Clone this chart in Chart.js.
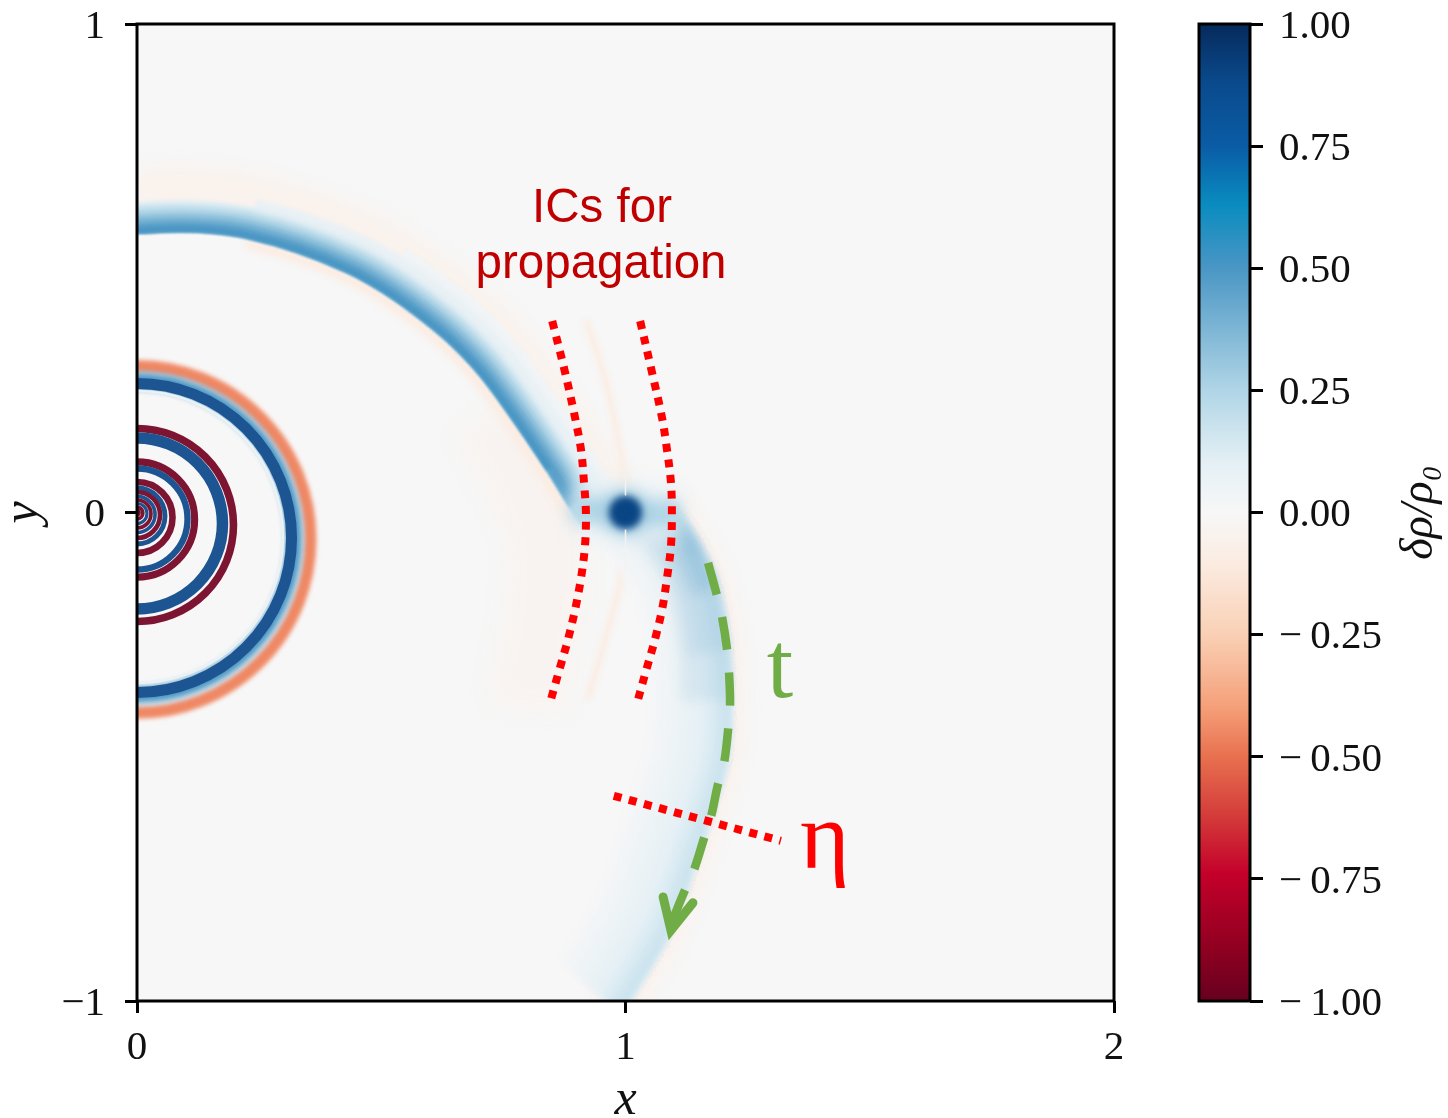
<!DOCTYPE html>
<html>
<head>
<meta charset="utf-8">
<style>
html, body { margin: 0; padding: 0; background: #fff; width: 1448px; height: 1118px; overflow: hidden; }
canvas { position: absolute; top: 0; }
#field { left: 0; }
</style>
<script src="https://cdn.jsdelivr.net/npm/chart.js@4"></script>
</head>
<body>
<div style="position:absolute;left:0;top:0;width:1180px;height:1118px"><canvas id="field"></canvas></div>
<div style="position:absolute;left:1180px;top:0;width:268px;height:1118px"><canvas id="bar" style="left:0"></canvas></div>
<script>
// axis ticks
const xTicks = [0, 1, 2];
const yTicks = [-1, 0, 1];
const barTicks = [-1, -0.75, -0.5, -0.25, 0, 0.25, 0.5, 0.75, 1];

// colormap
const cmapLevels = [-1, -0.9, -0.74, -0.62, -0.5, -0.4, -0.25, -0.1, 0, 0.1, 0.25, 0.5, 0.63, 0.75, 0.88, 1];
const cmapColors = ['#67001f', '#8d0020', '#c4002a', '#d43c3a', '#e8704f', '#f59f78', '#f9d0b5', '#fbece2', '#f7f7f7',
  '#e5f0f5', '#b0d5e6', '#4a96c4', '#0a8cc0', '#0a5ca5', '#0a4a8c', '#062a5c'];
const ringBlue = '#1c5591';
const ringRed = '#7d1432';

// rings near the origin, outermost first: centre y, radius, thickness, level
const ringY = [-0.055, -0.052, -0.052, -0.05, -0.0256, -0.0225, -0.0143, -0.0133, -0.0102, -0.0072, -0.0051, -0.004, -0.003, -0.002, -0.001, 0];
const ringR = [0.355, 0.3216, 0.3163, 0.299, 0.1975, 0.175, 0.118, 0.1034, 0.0727, 0.0573, 0.0471, 0.037, 0.0286, 0.0205, 0.012, 0.004];
const ringT = [0.0246, 0.0327, 0.0225, 0.005, 0.0155, 0.0235, 0.0145, 0.013, 0.0135, 0.01, 0.0095, 0.0075, 0.0075, 0.0065, 0.0075, 0.008];
const ringV = [-0.45, 0.5, 1, 0.07, -1, 1, -1, 1, -1, 1, -1, 1, -1, 1, -1, -1];
const ringBlur = [2, 3, 0.6, 0.6, 0.5, 0.5, 0.5, 0.5, 0.5, 0.5, 0.5, 0.5, 0.5, 0.5, 0.5, 0.5];

// sharp edge of the upper arm
const armUpper = [[0, 0.572], [0.088, 0.575], [0.156, 0.572], [0.225, 0.562], [0.328, 0.533], [0.43, 0.492], [0.497, 0.455],
  [0.565, 0.408], [0.635, 0.351], [0.702, 0.281], [0.77, 0.189], [0.839, 0.087], [0.886, 0.011], [0.915, -0.032]];
// depth from the edge, level, first and last edge point used
const upperDepth = [0.1, 0.082, 0.064, 0.055, 0.046, 0.037, 0.028, 0.019, 0.011];
const upperLevel = [0.04, 0.08, 0.12, 0.19, 0.26, 0.33, 0.4, 0.46, 0.5];
const upperFrom = [6, 3, 0, 0, 0, 0, 0, 0, 0];
const upperTo = [14, 14, 14, 14, 14, 14, 13, 13, 12];

// sharp edge of the lower arm
const armLower = [[1.08, 0.03], [1.112, -0.009], [1.152, -0.071], [1.187, -0.153], [1.21, -0.281], [1.214, -0.384], [1.208, -0.5],
  [1.177, -0.609], [1.138, -0.726], [1.091, -0.855], [1.009, -0.994], [0.989, -1.018]];
const lowerDepth = [0.164, 0.14, 0.115, 0.09, 0.07, 0.05, 0.03, 0.015];
const lowerLevel = [0.025, 0.04, 0.06, 0.08, 0.1, 0.125, 0.15, 0.175];
// darker stretch of the arm just below the planet: depth and edge points used
const neckDepth = [0.1, 0.08, 0.06, 0.04, 0.025];
const neckTo = [6, 5, 4, 4, 3];

// faint features around the planet
const tintLeft = [[0.72, 0.2], [0.8, 0.05], [0.84, -0.1], [0.8, -0.4]];
const wakeUp = [[0.919, 0.394], [0.96, 0.266], [0.989, 0.128], [1.001, 0.052]];
const wakeDown = [[1.001, -0.042], [0.989, -0.144], [0.962, -0.247], [0.923, -0.384]];
const seamUp = [[1, 0.09], [1, 0.035]];
const seamDown = [[1, -0.035], [1, -0.12]];
const neck = [[0.89, 0.01], [1, 0], [1.11, -0.005]];
const planet = [[1, 0]];
const planetR = [0.045, 0.034];
const planetV = [0.3, 0.9];

// annotations
const icLeft = [[0.85, 0.392], [0.876, 0.288], [0.897, 0.193], [0.909, 0.128], [0.915, 0.062], [0.919, -0.001], [0.917, -0.069],
  [0.909, -0.134], [0.897, -0.198], [0.882, -0.261], [0.864, -0.324], [0.845, -0.391]];
const icRight = [[1.03, 0.392], [1.054, 0.288], [1.075, 0.193], [1.085, 0.128], [1.093, 0.062], [1.095, -0.001], [1.093, -0.069],
  [1.085, -0.134], [1.075, -0.198], [1.06, -0.261], [1.042, -0.324], [1.022, -0.396]];
const etaLine = [[0.976, -0.58], [1.318, -0.672]];
const tLine = [[1.169, -0.103], [1.187, -0.169], [1.198, -0.216], [1.208, -0.281], [1.212, -0.329], [1.214, -0.394], [1.21, -0.445],
  [1.202, -0.511], [1.189, -0.558], [1.175, -0.623], [1.161, -0.666], [1.14, -0.732], [1.12, -0.777], [1.095, -0.838]];
const tArrow = [[1.077, -0.787], [1.093, -0.855], [1.138, -0.799]];
const notes = [
  { text: 'ICs for', x: 0.952, y: 0.594, font: '47.5px "Liberation Sans"', color: '#c00000' },
  { text: 'propagation', x: 0.95, y: 0.48, font: '47.5px "Liberation Sans"', color: '#c00000' },
  { text: 't', x: 1.316, y: -0.378, font: '95px "Liberation Serif"', color: '#70ad47' },
  { text: 'η', x: 1.408, y: -0.728, font: '95px "Liberation Serif"', color: '#ff0000' }
];

const hex = c => [1, 3, 5].map(i => parseInt(c.slice(i, i + 2), 16));
function levelColor(v) {
  let i = 0;
  while (i < cmapLevels.length - 2 && v > cmapLevels[i + 1]) i++;
  const t = (v - cmapLevels[i]) / (cmapLevels[i + 1] - cmapLevels[i]);
  const a = hex(cmapColors[i]), b = hex(cmapColors[i + 1]);
  return 'rgb(' + a.map((n, k) => Math.round(n + (b[k] - n) * t)).join(',') + ')';
}
const ringColor = v => v === 1 ? ringBlue : v === -1 ? ringRed : levelColor(v);
const toXY = pts => pts.map(p => ({ x: p[0], y: p[1] }));
// shift an edge sideways, + is to the left of the walking direction
function shifted(pts, d) {
  return pts.map((p, i) => {
    const a = pts[Math.max(i - 1, 0)], b = pts[Math.min(i + 1, pts.length - 1)];
    const dx = b[0] - a[0], dy = b[1] - a[1], n = Math.hypot(dx, dy);
    return [p[0] - dy / n * d, p[1] + dx / n * d];
  });
}
const span = (chart, d) => chart.scales.x.getPixelForValue(d) - chart.scales.x.getPixelForValue(0);

function line(pts, color, width, extra) {
  return Object.assign({
    type: 'scatter', showLine: true, data: toXY(pts), borderColor: color, backgroundColor: color,
    borderWidth: width, pointRadius: 0, tension: 0.35, clip: 0, borderCapStyle: 'butt', borderJoinStyle: 'round'
  }, extra);
}
// line whose thickness is given in data units
const band = (pts, depth, level, blur) => line(pts, levelColor(level), c => span(c.chart, depth), { blur: blur });

const datasets = [];
// pale tint around the structures
datasets.push(band(tintLeft, 0.16, -0.035, 12));
datasets.push(band(shifted(armUpper, 0.085), 0.1, -0.05, 8));
datasets.push(band(shifted(armLower, -0.02), 0.1, -0.05, 8));
datasets.push(band(shifted(armUpper.slice(3), -0.012), 0.02, -0.1, 3));
datasets.push(band(wakeUp, 0.016, -0.08, 2.5));
datasets.push(band(wakeDown, 0.016, -0.08, 2.5));

// lower arm
lowerDepth.forEach((d, i) => datasets.push(band(shifted(armLower, -d / 2), d, lowerLevel[i], 3)));
neckDepth.forEach((d, i) => datasets.push(line(shifted(armLower, -d / 2).slice(0, neckTo[i]), 'rgba(70,150,200,0.1)',
  c => span(c.chart, d), { blur: 6 })));
// upper arm
upperDepth.forEach((d, i) => datasets.push(band(shifted(armUpper, d / 2).slice(upperFrom[i], upperTo[i]), d, upperLevel[i], 1.5)));

// link through the planet
datasets.push(band(neck, 0.11, 0.1, 10));
datasets.push(band(neck, 0.05, 0.25, 7));
planetR.forEach((r, i) => datasets.push({
  type: 'scatter', data: toXY(planet), clip: 0, blur: i ? 3.5 : 8,
  pointBackgroundColor: levelColor(planetV[i]), pointBorderWidth: 0,
  pointRadius: c => span(c.chart, r)
}));
datasets.push(line(seamUp, '#f2f2f2', 1.5, { blur: 0.5 }));
datasets.push(line(seamDown, '#f2f2f2', 1.5, { blur: 0.5 }));

// rings
ringR.forEach((r, i) => datasets.push({
  type: 'scatter', data: [{ x: 0, y: ringY[i] }], clip: 0, blur: ringBlur[i],
  pointBackgroundColor: 'rgba(0,0,0,0)', pointBorderColor: ringColor(ringV[i]),
  pointBorderWidth: c => span(c.chart, ringT[i]), pointRadius: c => span(c.chart, r)
}));

// hand drawn marks
datasets.push(line(icLeft, '#ff0000', 8, { borderDash: [8, 7.7] }));
datasets.push(line(icRight, '#ff0000', 8, { borderDash: [8, 7.7] }));
datasets.push(line(tLine, '#70ad47', 8.5, { borderDash: [33, 23] }));
datasets.push(line(tArrow, '#70ad47', 9, { tension: 0, borderCapStyle: 'round', borderJoinStyle: 'miter' }));
datasets.push(line(etaLine, '#ff0000', 8, { borderDash: [8, 7.6], tension: 0 }));

// the first dataset is painted last by Chart.js
datasets.reverse();

const blurPlugin = {
  id: 'blur',
  beforeDatasetDraw(chart, args) {
    const b = chart.data.datasets[args.index].blur;
    chart.ctx.save();
    if (b) chart.ctx.filter = 'blur(' + b + 'px)';
  },
  afterDatasetDraw(chart) { chart.ctx.restore(); }
};
const framePlugin = {
  id: 'frame',
  beforeDatasetsDraw(chart) {
    const a = chart.chartArea, c = chart.ctx;
    c.fillStyle = '#f7f7f7';
    c.fillRect(a.left, a.top, a.width, a.height);
  },
  afterDraw(chart) {
    const a = chart.chartArea, c = chart.ctx, xs = chart.scales.x, ys = chart.scales.y;
    c.save();
    c.textAlign = 'center';
    notes.forEach(n => {
      c.font = n.font;
      c.fillStyle = n.color;
      c.fillText(n.text, xs.getPixelForValue(n.x), ys.getPixelForValue(n.y));
    });
    c.strokeStyle = '#000';
    c.lineWidth = 3;
    c.strokeRect(a.left, a.top, a.width, a.height);
    c.restore();
  }
};
const tickFont = { family: '"Liberation Serif"', size: 41 };
// small line height plus an empty first line drops y tick labels by 3px
const yTickFont = { family: '"Liberation Serif"', size: 41, lineHeight: 0.15 };
const labelFont = { family: '"Liberation Serif"', size: 50, style: 'italic', lineHeight: 0.7 };
const fmt = v => (v < 0 ? '−' : '') + Math.abs(v);
const noPad = s => { s.paddingTop = 0; s.paddingBottom = 0; s.paddingLeft = 0; s.paddingRight = 0; };

new Chart(document.getElementById('field'), {
  type: 'scatter',
  data: { datasets: datasets },
  plugins: [framePlugin, blurPlugin],
  options: {
    responsive: true, maintainAspectRatio: false, animation: false, events: [],
    layout: { padding: { top: 24, right: 66, left: 0, bottom: 0 } },
    plugins: { legend: { display: false }, tooltip: { enabled: false } },
    scales: {
      x: {
        type: 'linear', min: 0, max: 2,
        afterBuildTicks: s => { s.ticks = xTicks.map(v => ({ value: v })); },
        afterFit: s => { s.height = 117; noPad(s); },
        grid: { drawOnChartArea: false, tickLength: 12, tickWidth: 3, tickColor: '#000' },
        border: { display: false },
        ticks: { font: tickFont, color: '#111', padding: 11, maxRotation: 0, callback: fmt },
        title: { display: true, text: 'x', font: labelFont, color: '#111', padding: { top: 0, bottom: 0 } }
      },
      y: {
        type: 'linear', min: -1, max: 1,
        afterBuildTicks: s => { s.ticks = yTicks.map(v => ({ value: v })); },
        afterFit: s => { s.width = 137; noPad(s); },
        grid: { drawOnChartArea: false, tickLength: 12, tickWidth: 3, tickColor: '#000' },
        border: { display: false },
        ticks: { font: yTickFont, color: '#111', padding: 20, callback: v => ['', fmt(v)] },
        title: { display: true, text: 'y', font: labelFont, color: '#111', padding: { top: 6.5, bottom: 0 } }
      }
    }
  }
});

// colorbar
const barLabel = 'δρ/ρ₀';
const barRange = [[-1, 1]];
const barFrame = {
  id: 'barFrame',
  afterDraw(chart) {
    const a = chart.chartArea, c = chart.ctx;
    c.save();
    c.strokeStyle = '#000';
    c.lineWidth = 3;
    c.strokeRect(a.left, a.top, a.width, a.height);
    c.translate(240, chart.scales.y.getPixelForValue(0));
    c.rotate(-Math.PI / 2);
    c.font = 'italic 46px "Liberation Serif"';
    c.fillStyle = '#111';
    c.textAlign = 'center';
    c.textBaseline = 'middle';
    c.fillText(barLabel, 0, 0);
    c.restore();
  }
};
new Chart(document.getElementById('bar'), {
  type: 'bar',
  data: {
    labels: [barLabel],
    datasets: [{
      data: barRange, barPercentage: 1, categoryPercentage: 1,
      backgroundColor(c) {
        const a = c.chart.chartArea;
        if (!a) return '#f7f7f7';
        const g = c.chart.ctx.createLinearGradient(0, a.bottom, 0, a.top);
        cmapLevels.forEach((v, i) => g.addColorStop((v + 1) / 2, cmapColors[i]));
        return g;
      }
    }]
  },
  plugins: [barFrame],
  options: {
    responsive: true, maintainAspectRatio: false, animation: false, events: [],
    layout: { padding: { top: 24, bottom: 117, left: 19, right: 0 } },
    plugins: { legend: { display: false }, tooltip: { enabled: false } },
    scales: {
      x: { display: false },
      y: {
        type: 'linear', position: 'right', min: -1, max: 1,
        afterBuildTicks: s => { s.ticks = barTicks.map(v => ({ value: v })); },
        afterFit: s => { s.width = 198; noPad(s); },
        grid: { drawOnChartArea: false, tickLength: 13, tickWidth: 3, tickColor: '#000' },
        border: { display: false },
        ticks: { font: yTickFont, color: '#111', padding: 16, callback: v => ['', (v < 0 ? '−\u2009' : '') + Math.abs(v).toFixed(2)] }
      }
    }
  }
});
</script>
</body>
</html>
